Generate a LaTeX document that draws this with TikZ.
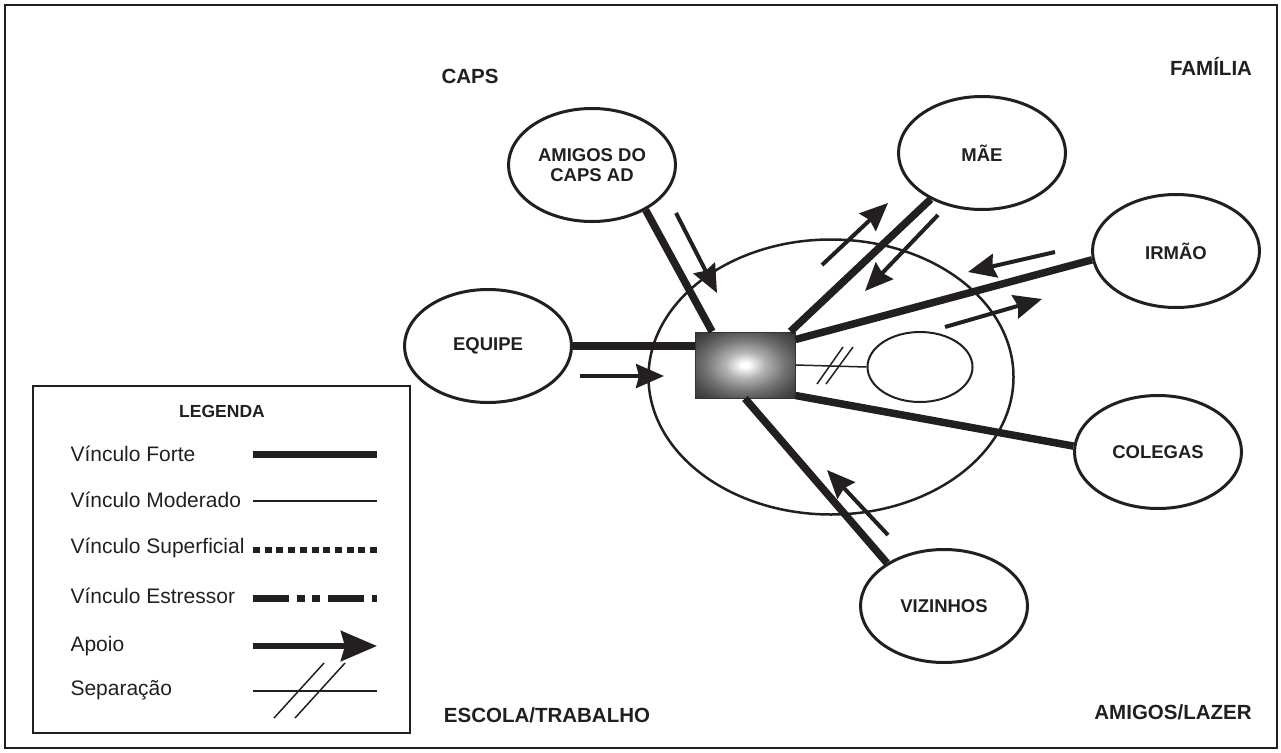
\documentclass[tikz,border=0pt]{standalone}
\usepackage{fontspec}
\setmainfont{Liberation Sans}
\usetikzlibrary{shapes.geometric,arrows.meta}
\definecolor{ink}{RGB}{35,31,32}
\pgfdeclareradialshading{egoshade}{\pgfpoint{0bp}{0bp}}{color(0bp)=(white); color(2bp)=(white); color(10bp)=(black!30); color(20bp)=(black!55); color(28bp)=(black!70); color(36bp)=(black!80); color(50bp)=(black!80)}
\begin{document}
\begin{tikzpicture}[x=1pt,y=-1pt,
  person/.style={ellipse, draw=ink, line width=3pt, minimum width=167pt, minimum height=113pt,
    inner sep=0pt, font=\bfseries\fontsize{18.5}{20}\selectfont, align=center, text=ink},
  strong/.style={draw=ink, line width=7.5pt},
  moderate/.style={draw=ink, line width=1.5pt},
  support/.style={draw=ink, line width=4pt, -{Stealth[length=28pt,width=24pt,inset=3pt]}},
  area/.style={anchor=base, font=\bfseries\fontsize{20.5}{24}\selectfont, text=ink},
  legtext/.style={anchor=base west, font=\fontsize{21}{24}\selectfont, text=ink}]
\useasboundingbox (0,0) rectangle (1281,752);
% frame
\draw[ink, line width=1.5pt] (5,5) rectangle (1277,748);

% area labels
\node[area] (caps) at (470,83) {CAPS};
\node[area] (familia) at (1211,75) {FAMÍLIA};
\node[area] (escola) at (547,722) {ESCOLA/TRABALHO};
\node[area] (lazer) at (1173,719) {AMIGOS/LAZER};

% household circle
\node[ellipse, draw=ink, line width=2.5pt, minimum width=365pt, minimum height=275pt, inner sep=0pt] (rede) at (831,377) {};

% persons
\node[person] (amigos) at (592,165) {AMIGOS DO\\CAPS AD};
\node[person] (equipe) at (488,346) {EQUIPE};
\node[person] (mae) at (982,153) {MÃE};
\node[person] (irmao) at (1176,251) {IRMÃO};
\node[person] (colegas) at (1158,452) {COLEGAS};
\node[person] (vizinhos) at (944,606) {VIZINHOS};

% small ellipse (separated)
\node[ellipse, draw=ink, line width=2pt, minimum width=105pt, minimum height=70pt, inner sep=0pt] (sep) at (920,367) {};

% ego
\node[draw=black!80, line width=1pt, shading=egoshade, minimum width=100pt, minimum height=66pt, inner sep=0pt] (ego) at (745,365) {};

% strong links
\draw[strong] (amigos.-40) -- ([xshift=-33pt]ego.north);
\draw[strong] (equipe.east) -- (equipe.east -| ego.west);
\draw[strong] (mae.-138) -- ([xshift=-5pt]ego.north east);
\draw[strong] (irmao.186) -- ([yshift=-8pt]ego.north east);
\draw[strong] ([yshift=3pt]ego.south east) -- (colegas.176);
\draw[strong] (ego.south) -- (vizinhos.143);

% separation
\draw[moderate] (ego.east) -- (sep.west);
\coordinate (s1a) at (817,384); \coordinate (s1b) at (843,347);
\coordinate (s2a) at (826,384); \coordinate (s2b) at (853,347);
\draw[moderate] (s1a) -- (s1b);
\draw[moderate] (s2a) -- (s2b);

% support arrows
\coordinate (a1s) at (580,376); \coordinate (a1e) at (664,376);
\coordinate (a2s) at (676,213); \coordinate (a2e) at (717,293);
\coordinate (a3s) at (822,265); \coordinate (a3e) at (888,203);
\coordinate (a4s) at (938,215); \coordinate (a4e) at (865,291);
\coordinate (a5s) at (1055,252); \coordinate (a5e) at (968,272);
\coordinate (a6s) at (945,327); \coordinate (a6e) at (1042,299);
\coordinate (a7s) at (888,535); \coordinate (a7e) at (827,470);
\draw[support] (a1s) -- (a1e);
\draw[support] (a2s) -- (a2e);
\draw[support] (a3s) -- (a3e);
\draw[support] (a4s) -- (a4e);
\draw[support] (a5s) -- (a5e);
\draw[support] (a6s) -- (a6e);
\draw[support] (a7s) -- (a7e);

% legend
\node[draw=ink, line width=1.5pt, minimum width=377pt, minimum height=347pt, inner sep=0pt] (legbox) at (221.5,559.5) {};
\node[anchor=base, font=\bfseries\fontsize{17.5}{20}\selectfont, text=ink] (legtitle) at (222,417) {LEGENDA};
\node[legtext] (l1) at (67,461) {Vínculo Forte};
\node[legtext] (l2) at (67,507) {Vínculo Moderado};
\node[legtext] (l3) at (67,553) {Vínculo Superficial};
\node[legtext] (l4) at (67,603) {Vínculo Estressor};
\node[legtext] (l5) at (67,651) {Apoio};
\node[legtext] (l6) at (67,695) {Separação};
\coordinate (k1a) at (253,454); \coordinate (k1b) at (377,454);
\coordinate (k2a) at (253,501); \coordinate (k2b) at (377,501);
\coordinate (k3a) at (253,550); \coordinate (k3b) at (377,550);
\coordinate (k4a) at (253,598); \coordinate (k4b) at (377,598);
\coordinate (k5a) at (253,646); \coordinate (k5b) at (377,646);
\coordinate (k6a) at (253,691); \coordinate (k6b) at (377,691);
\coordinate (k7a) at (274,718); \coordinate (k7b) at (324,663);
\coordinate (k8a) at (295,718); \coordinate (k8b) at (345,663);
\draw[draw=ink, line width=7pt] (k1a) -- (k1b);
\draw[moderate] (k2a) -- (k2b);
\draw[draw=ink, line width=5.5pt, dash pattern=on 7pt off 4.7pt] (k3a) -- (k3b);
\draw[draw=ink, line width=7pt, dash pattern=on 36pt off 8pt on 8pt off 7pt on 8pt off 8pt] (k4a) -- (k4b);
\draw[draw=ink, line width=6pt, -{Stealth[length=36pt,width=30pt,inset=4pt]}] (k5a) -- (k5b);
\draw[moderate] (k6a) -- (k6b);
\draw[moderate] (k7a) -- (k7b);
\draw[moderate] (k8a) -- (k8b);
\end{tikzpicture}
\end{document}
